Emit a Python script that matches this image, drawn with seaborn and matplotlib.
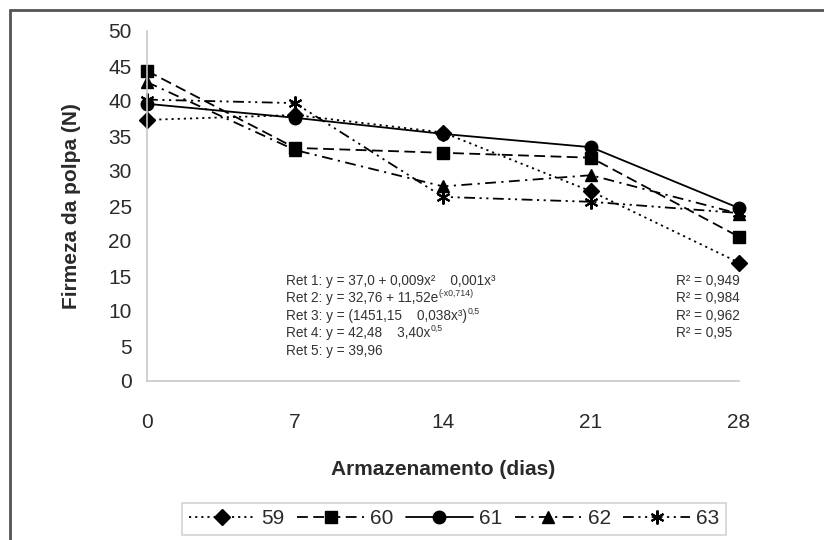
import matplotlib
matplotlib.use("Agg")
import matplotlib.pyplot as plt
import seaborn as sns
import pandas as pd
from matplotlib.lines import Line2D

days = [0, 7, 14, 21, 28]
series_names = ["59", "60", "61", "62", "63"]
s59 = [37.3, 38.0, 35.5, 27.1, 16.9]
s60 = [44.3, 33.3, 32.6, 31.9, 20.6]
s61 = [39.6, 37.6, 35.3, 33.4, 24.7]
s62 = [42.7, 33.0, 27.8, 29.4, 23.9]
s63 = [40.2, 39.7, 26.3, 25.6, 24.0]
yticks = [0, 5, 10, 15, 20, 25, 30, 35, 40, 45, 50]
eq_base = [
    "Ret 1: y = 37,0 + 0,009x²    0,001x³",
    "Ret 2: y = 32,76 + 11,52e",
    "Ret 3: y = (1451,15    0,038x³)",
    "Ret 4: y = 42,48    3,40x",
    "Ret 5: y = 39,96",
]
eq_sup = ["", "(-x0,714)", "0,5", "0,5", ""]
r2_lines = [
    "R² = 0,949",
    "R² = 0,984",
    "R² = 0,962",
    "R² = 0,95",
]

rows = []
for name, vals in zip(series_names, [s59, s60, s61, s62, s63]):
    for d, v in zip(days, vals):
        rows.append({"dia": d, "firmeza": v, "serie": name})
df = pd.DataFrame(rows)

sns.set_theme(style="white")
plt.rcParams["font.family"] = ["Liberation Sans", "DejaVu Sans"]

fig = plt.figure(figsize=(8.24, 5.4), dpi=100)
ax = fig.add_axes([147 / 824, 1 - 381 / 540, (739 - 147) / 824, (381 - 31) / 540])

markers = {"59": "D", "60": "s", "61": "o", "62": "^", "63": (6, 2, 0)}
msizes = {"59": 8, "60": 9, "61": 9, "62": 9, "63": 10}
dashes = {"59": (1.2, 2.2), "60": (6, 3), "61": None, "62": (6, 3, 1.2, 3),
          "63": (6, 2.5, 1.2, 2.5, 1.2, 2.5)}

handles = []
for n in series_names:
    sub = df[df["serie"] == n]
    before = len(ax.lines)
    sns.lineplot(data=sub, x="dia", y="firmeza", ax=ax, color="black",
                 marker=markers[n], markersize=msizes[n], linewidth=1.3,
                 markeredgecolor="black", markeredgewidth=1.5 if n == "63" else 1.0,
                 legend=False)
    ln = ax.lines[before]
    if dashes[n] is not None:
        ln.set_dashes(dashes[n])
    ln.set_clip_on(False)
    h = Line2D([], [], color="black", marker=markers[n], markersize=msizes[n], linewidth=1.3,
               markeredgecolor="black", markeredgewidth=1.5 if n == "63" else 1.0)
    if dashes[n] is not None:
        h.set_dashes(dashes[n])
    handles.append(h)

ax.set_xlim(0, 28)
ax.set_ylim(0, 50)
ax.set_xticks(days)
ax.set_yticks(yticks)
ax.set_xticklabels([str(d) for d in days])
ax.set_yticklabels([str(t) for t in yticks])
for side in ["top", "right"]:
    ax.spines[side].set_visible(False)
for side in ["left", "bottom"]:
    ax.spines[side].set_color("#c8c8c8")
    ax.spines[side].set_linewidth(1.2)
ax.tick_params(axis="both", which="both", direction="out", length=5, width=1.2,
               color="#c8c8c8", labelsize=15, labelcolor="#2a2a2a", pad=6)
ax.tick_params(axis="x", pad=18)
ax.set_xlabel("Armazenamento (dias)", fontsize=15, fontweight="bold", color="#2a2a2a", labelpad=20)
ax.set_ylabel("Firmeza da polpa (N)", fontsize=15, fontweight="bold", color="#2a2a2a", labelpad=20)

eq_y = [281, 298, 316, 333, 351]
renderer = fig.canvas.get_renderer()
for base, sup, yp in zip(eq_base, eq_sup, eq_y):
    t = fig.text(286 / 824, 1 - yp / 540, base, fontsize=9.8, color="#333333",
                 va="center", ha="left")
    if sup:
        bb = t.get_window_extent(renderer=renderer)
        fig.text((bb.x1 + 0.5) / 824, 1 - (yp - 5) / 540, sup, fontsize=6.3,
                 color="#333333", va="center", ha="left")
for txt, yp in zip(r2_lines, eq_y[:4]):
    fig.text(676 / 824, 1 - yp / 540, txt, fontsize=9.8, color="#333333", va="center", ha="left")

leg = fig.legend(handles, series_names, loc="upper center", ncol=5,
                 bbox_to_anchor=(0.551, 1 - 503 / 540), frameon=True, fontsize=15,
                 handlelength=3.2, columnspacing=0.6, handletextpad=0.3,
                 borderpad=0.3, borderaxespad=0.0, fancybox=False)
leg.get_frame().set_edgecolor("#c8c8c8")
leg.get_frame().set_linewidth(1.2)
for t in leg.get_texts():
    t.set_color("#2a2a2a")

fig.add_artist(Line2D([10 / 824, 1], [1 - 10 / 540, 1 - 10 / 540], color="#555555", lw=2,
                      transform=fig.transFigure))
fig.add_artist(Line2D([10 / 824, 10 / 824], [0, 1 - 10 / 540], color="#555555", lw=2,
                      transform=fig.transFigure))

fig.savefig("out.png", dpi=100)
